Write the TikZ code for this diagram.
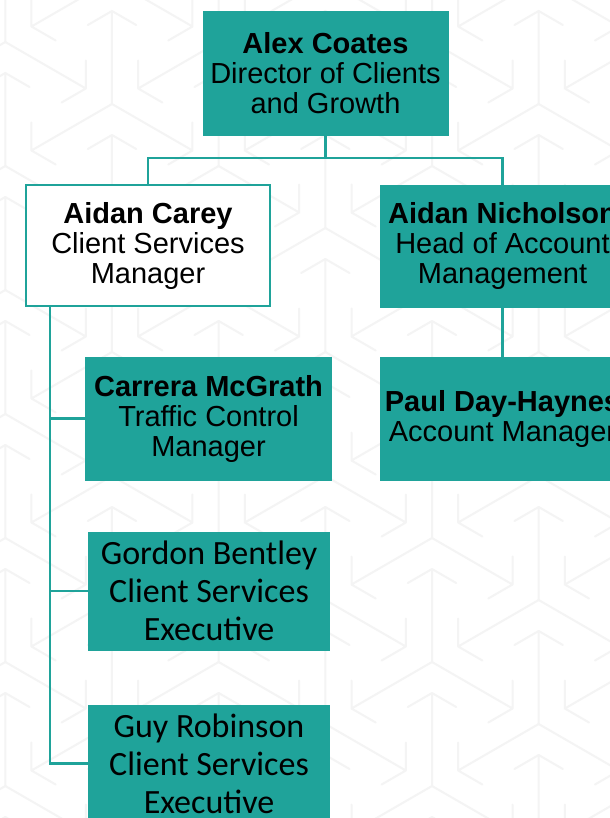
\documentclass[tikz,border=0pt]{standalone}
\usepackage{fontspec}
\setmainfont{Liberation Sans}
\newfontfamily\calfont{Carlito}
\definecolor{teal}{RGB}{31,163,154}
\definecolor{motif}{RGB}{244,244,244}
\begin{document}
\begin{tikzpicture}[x=1bp,y=-1bp,
  box/.style={draw=teal,line width=1bp,fill=teal,text=black,align=center,
    inner sep=0pt,minimum width=245bp,minimum height=123bp,
    font=\fontsize{29bp}{30bp}\selectfont},
  whitebox/.style={box,fill=white,line width=2bp},
  calbox/.style={box,minimum width=240bp,minimum height=118bp,
    font=\calfont\fontsize{34bp}{38bp}\selectfont},
  link/.style={draw=teal,line width=2.5bp},
  motifline/.style={draw=motif,line width=2bp,line cap=round,line join=round}]
\useasboundingbox (0,0) rectangle (610,818);
\begin{scope}
\clip (0,0) rectangle (610,818);
\fill[white] (0,0) rectangle (610,818);
% tessellated three-armed arrows in the background
\foreach \i in {-5,...,2}{
  \foreach \j in {-10,...,6}{
    \begin{scope}[shift={({432+106.67*\i},{662+62*\i+124*\j})}]
      \draw[motifline] (0,0) -- (0,-93) (-24.2,-79) -- (0,-93) -- (24.2,-79);
      \draw[motifline] (0,0) -- (-80.5,46.5) (-80.5,18.5) -- (-80.5,46.5) -- (-56.3,60.5);
      \draw[motifline] (0,0) -- (80.5,46.5) (80.5,18.5) -- (80.5,46.5) -- (56.3,60.5);
    \end{scope}
  }
}

% people
\node[box] (alex) at (325.5,73.5) {\textbf{Alex Coates}\\Director of Clients\\and Growth};
\node[whitebox,minimum width=244bp,minimum height=121bp] (carey) at (148,245.5)
  {\textbf{Aidan Carey}\\Client Services\\Manager};
\node[box,minimum height=122bp] (nicholson) at (502.5,246)
  {\textbf{Aidan Nicholson}\\Head of Account\\Management};
\node[box] (paul) at (502.5,418.5) {\textbf{Paul Day-Haynes}\\Account Manager};
\node[box] (carrera) at (208.5,418.5) {\textbf{Carrera McGrath}\\Traffic Control\\Manager};
\node[calbox] (gordon) at (209,591) {Gordon Bentley\\Client Services\\Executive};
\node[calbox,minimum height=117bp] (guy) at (209,763.5) {Guy Robinson\\Client Services\\Executive};

% reporting lines
\coordinate (split) at (325.5,158);
\draw[link] (alex.south) -- (split);
\draw[link] (split) -| (carey.north);
\draw[link] (split) -| (nicholson.north);
\draw[link] (nicholson.south) -- (paul.north);
\coordinate (spine) at ([xshift=25bp]carey.south west);
\draw[link] (spine) |- (carrera.west);
\draw[link] (spine) |- (gordon.west);
\draw[link] (spine) |- (guy.west);
\end{scope}
\end{tikzpicture}
\end{document}
